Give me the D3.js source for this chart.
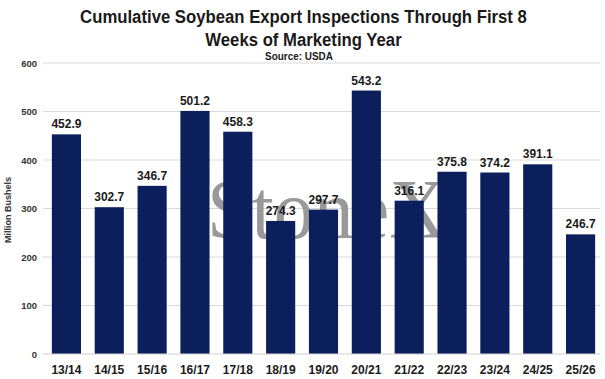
<!DOCTYPE html>
<html><head><meta charset="utf-8">
<script src="https://cdn.jsdelivr.net/npm/d3@7"></script>
<style>body{margin:0;background:#fff}svg{display:block}</style>
</head><body>
<script>
const categories = ["13/14","14/15","15/16","16/17","17/18","18/19","19/20","20/21","21/22","22/23","23/24","24/25","25/26"];
const values = [452.9,302.7,346.7,501.2,458.3,274.3,297.7,543.2,316.1,375.8,374.2,391.1,246.7];
const yTicks = [0,100,200,300,400,500,600];
const titleLines = ["Cumulative Soybean Export Inspections Through First 8","Weeks of Marketing Year"];
const subtitle = "Source: USDA";
const yTitle = "Million Bushels";

const W=605,H=379;
const svg=d3.select("body").append("svg").attr("width",W).attr("height",H);
const sans="'Liberation Sans',Arial,sans-serif";
const x=d3.scaleBand().domain(categories).range([45,602]).paddingInner(0.32).paddingOuter(0.16);
const y=d3.scaleLinear().domain([0,600]).range([354,63]);

// gridlines
svg.append("g").selectAll("line").data(yTicks.filter(d=>d>0)).join("line")
  .attr("x1",43).attr("x2",600).attr("y1",d=>y(d)).attr("y2",d=>y(d))
  .attr("stroke","#d9d9d9").attr("stroke-width",1);

// watermark
svg.append("text").attr("x",327).attr("y",238).attr("text-anchor","middle")
  .attr("font-family","'Liberation Serif','Times New Roman',serif").attr("font-size",84)
  .attr("fill","#999").attr("textLength",240).attr("lengthAdjust","spacingAndGlyphs")
  .text("StoneX");

// bars
svg.append("g").selectAll("rect").data(values).join("rect")
  .attr("x",(d,i)=>x(categories[i])).attr("width",x.bandwidth())
  .attr("y",d=>y(d)).attr("height",d=>y(0)-y(d)).attr("fill","#0b1f5c");

// baseline
svg.append("line").attr("x1",43).attr("x2",600).attr("y1",y(0)).attr("y2",y(0)).attr("stroke","#d0d0d0");

// value labels
svg.append("g").selectAll("text").data(values).join("text")
  .attr("x",(d,i)=>x(categories[i])+x.bandwidth()/2).attr("y",d=>y(d)-6)
  .attr("text-anchor","middle").attr("font-family",sans)
  .attr("font-weight","bold").attr("font-size",12).attr("fill","#1a1a1a").text(d=>d.toFixed(1));

// y axis
const ya=svg.append("g").attr("transform","translate(37,0)")
  .call(d3.axisLeft(y).tickValues(yTicks).tickSize(0).tickPadding(0));
ya.select(".domain").remove();
ya.selectAll("text").attr("font-family",sans).attr("font-weight","bold")
  .attr("font-size",9.5).attr("fill","#333");

// x axis
const xa=svg.append("g").attr("transform",`translate(0,${y(0)})`)
  .call(d3.axisBottom(x).tickSize(0).tickPadding(11));
xa.select(".domain").remove();
xa.selectAll("text").attr("font-family",sans).attr("font-weight","bold")
  .attr("font-size",12).attr("fill","#1a1a1a");

// y title
svg.append("text").attr("transform","translate(11,210) rotate(-90)").attr("text-anchor","middle")
  .attr("font-family",sans).attr("font-weight","bold").attr("font-size",9)
  .attr("fill","#333").text(yTitle);

// titles (condensed via horizontal scaling)
const tg=svg.append("g");
const tl=tg.selectAll("text").data(titleLines).join("text")
  .attr("x",0).attr("y",(d,i)=>23+i*23.5).attr("text-anchor","middle")
  .attr("font-family",sans).attr("font-weight","bold").attr("font-size",18.5).attr("fill","#1a1a1a").text(d=>d);
const w1=tl.node().getComputedTextLength();
const k=447/w1;
tg.attr("transform",`translate(303.5,0) scale(${k},1)`);
const st=svg.append("text").attr("x",0).attr("y",60).attr("text-anchor","middle")
  .attr("font-family",sans).attr("font-weight","bold").attr("font-size",11).attr("fill","#1a1a1a").text(subtitle);
st.attr("transform",`translate(299,0) scale(${k},1)`);
</script>
</body></html>
